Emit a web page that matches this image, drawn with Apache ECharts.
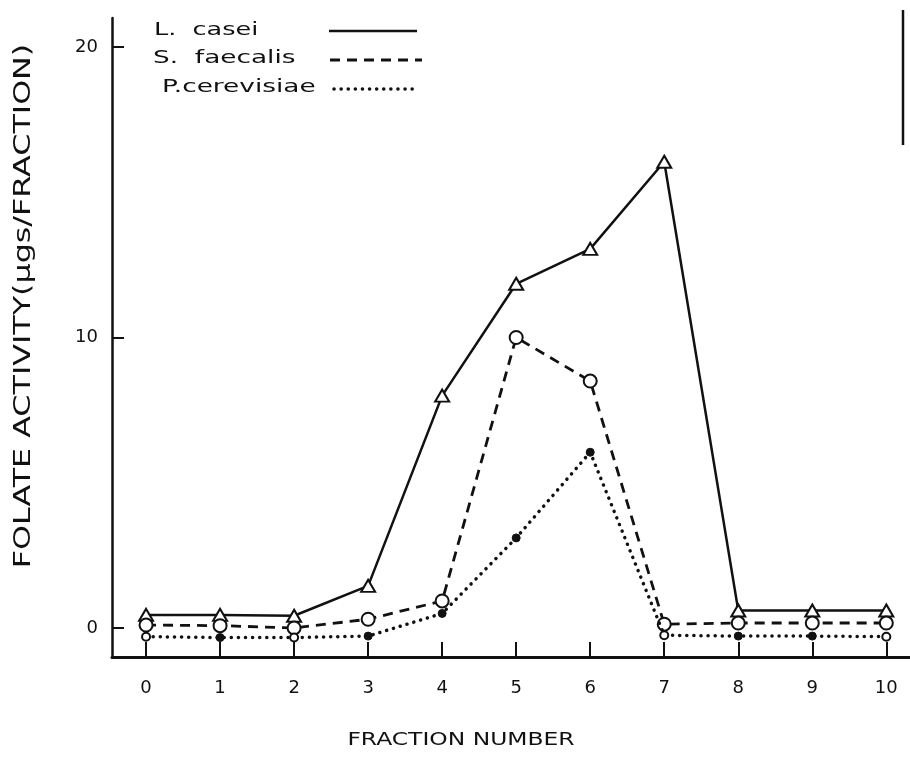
<!DOCTYPE html>
<html>
<head>
<meta charset="utf-8">
<script src="https://cdn.jsdelivr.net/npm/echarts@6/dist/echarts.min.js"></script>
<style>
  html, body { margin: 0; padding: 0; background: #fff; }
  #chart { width: 910px; height: 769px; }
</style>
</head>
<body>
<div id="chart"></div>
<script>
// Fraction numbers along the x axis
const fractions = [0, 1, 2, 3, 4, 5, 6, 7, 8, 9, 10];
// Folate activity (µgs per fraction) measured with each test organism
const lCasei = [0.45, 0.45, 0.42, 1.45, 8.0, 11.85, 13.05, 16.05, 0.6, 0.6, 0.6];
const sFaecalis = [0.1, 0.08, 0.0, 0.3, 0.93, 10.0, 8.5, 0.13, 0.17, 0.17, 0.17];
const pCerevisiae = [-0.3, -0.33, -0.33, -0.28, 0.5, 3.1, 6.05, -0.25, -0.28, -0.28, -0.3];
// Tick labels
const yTicks = [0, 10, 20];
const xTicks = [0, 1, 2, 3, 4, 5, 6, 7, 8, 9, 10];

const FONT = '"DejaVu Sans", sans-serif';
const INK = '#111';

const pairs = vals => fractions.map((f, i) => [f, vals[i]]);
// P. cerevisiae points drawn as hollow dots
const hollowDots = new Set([0, 2, 7, 10]);

const chart = echarts.init(document.getElementById('chart'), null, { renderer: 'canvas' });

chart.setOption({
  animation: false,
  backgroundColor: '#fff',
  grid: { left: 112, right: 0, top: 18, bottom: 112, containLabel: false },
  xAxis: {
    type: 'value',
    min: -0.46,
    max: 10.32,
    axisLine: { show: true, onZero: false, lineStyle: { color: INK, width: 3 } },
    axisTick: { show: true, inside: true, length: 15, customValues: xTicks, lineStyle: { color: INK, width: 2 } },
    axisLabel: { show: true, customValues: xTicks, margin: 22, color: INK, fontFamily: FONT, fontSize: 18 },
    splitLine: { show: false }
  },
  yAxis: {
    type: 'value',
    min: -1,
    max: 21,
    axisLine: { show: true, onZero: false, lineStyle: { color: INK, width: 2.5 } },
    axisTick: { show: true, inside: true, length: 12, customValues: yTicks, lineStyle: { color: INK, width: 2 } },
    axisLabel: { show: true, customValues: yTicks, margin: 14, color: INK, fontFamily: FONT, fontSize: 18 },
    splitLine: { show: false }
  },
  series: [
    {
      name: 'L. casei',
      type: 'line',
      data: pairs(lCasei),
      symbol: 'triangle',
      symbolSize: [14, 12],
      lineStyle: { color: INK, width: 2.5 },
      itemStyle: { color: '#fff', borderColor: INK, borderWidth: 2 },
      z: 3
    },
    {
      name: 'S. faecalis',
      type: 'line',
      data: pairs(sFaecalis),
      symbol: 'circle',
      symbolSize: 13,
      lineStyle: { color: INK, width: 2.8, type: [10, 7] },
      itemStyle: { color: '#fff', borderColor: INK, borderWidth: 2 },
      z: 4
    },
    {
      name: 'P. cerevisiae',
      type: 'line',
      data: pairs(pCerevisiae).map((p, i) => ({
        value: p,
        itemStyle: hollowDots.has(i)
          ? { color: '#fff', borderColor: INK, borderWidth: 2 }
          : { color: INK, borderColor: INK, borderWidth: 1 }
      })),
      symbol: 'circle',
      symbolSize: 8,
      lineStyle: { color: INK, width: 3.5, type: [0.1, 7], cap: 'round' },
      z: 5
    }
  ],
  graphic: [
    // legend: names on the left, line samples on the right
    { type: 'text', x: 154, y: 31, scaleX: 1.5,
      style: { text: 'L.  casei', font: '17px ' + FONT, fill: INK, verticalAlign: 'middle' } },
    { type: 'line', shape: { x1: 329, y1: 31, x2: 417, y2: 31 },
      style: { stroke: INK, lineWidth: 2.5 } },
    { type: 'text', x: 153, y: 59, scaleX: 1.55,
      style: { text: 'S.  faecalis', font: '17px ' + FONT, fill: INK, verticalAlign: 'middle' } },
    { type: 'line', shape: { x1: 330, y1: 60, x2: 422, y2: 60 },
      style: { stroke: INK, lineWidth: 2.8, lineDash: [10, 7] } },
    { type: 'text', x: 162, y: 88, scaleX: 1.55,
      style: { text: 'P.cerevisiae', font: '17px ' + FONT, fill: INK, verticalAlign: 'middle' } },
    { type: 'line', shape: { x1: 334, y1: 89, x2: 418, y2: 89 },
      style: { stroke: INK, lineWidth: 3.5, lineDash: [0.1, 7], lineCap: 'round' } },
    // right-hand frame edge
    { type: 'line', shape: { x1: 903, y1: 10, x2: 903, y2: 145 },
      style: { stroke: INK, lineWidth: 2.5 } },
    // axis titles
    { type: 'text', x: 461, y: 740, scaleX: 1.3,
      style: { text: 'FRACTION NUMBER', font: '18px ' + FONT, fill: INK, align: 'center', verticalAlign: 'middle' } },
    { type: 'text', x: 24, y: 306, rotation: Math.PI / 2, scaleX: 1.38,
      style: { text: 'FOLATE ACTIVITY(μgs/FRACTION)', font: '23px ' + FONT, fill: INK, align: 'center', verticalAlign: 'middle' } }
  ]
});
</script>
</body>
</html>
